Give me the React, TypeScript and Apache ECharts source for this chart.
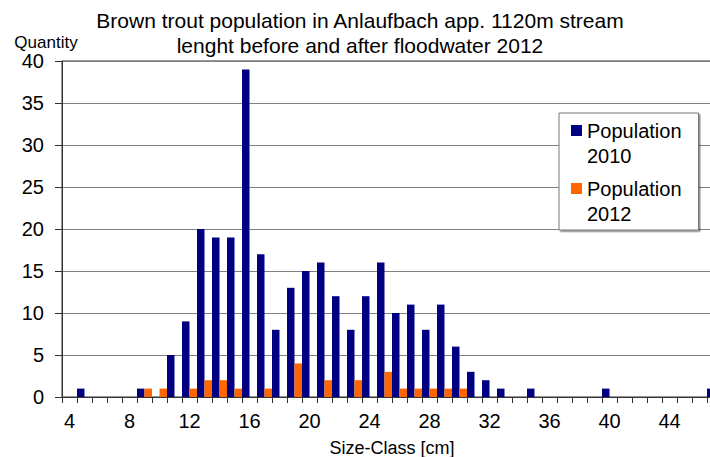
import React, { useEffect, useRef } from "react";
import * as echarts from "echarts";

const sizeClasses: string[] = [
  "4", "5", "6", "7", "8", "9", "10", "11", "12", "13", "14", "15", "16", "17", "18", "19",
  "20", "21", "22", "23", "24", "25", "26", "27", "28", "29", "30", "31", "32", "33", "34", "35",
  "36", "37", "38", "39", "40", "41", "42", "43", "44", "45", "46", "47",
];

const population2010: number[] = [
  0, 1, 0, 0, 0, 1, 0, 5, 9, 20, 19, 19, 39, 17, 8, 13,
  15, 16, 12, 8, 12, 16, 10, 11, 8, 11, 6, 3, 2, 1, 0, 1,
  0, 0, 0, 0, 1, 0, 0, 0, 0, 0, 0, 1,
];

const population2012: number[] = [
  0, 0, 0, 0, 0, 1, 1, 0, 1, 2, 2, 1, 0, 1, 0, 4,
  0, 2, 0, 2, 0, 3, 1, 1, 1, 1, 1, 0, 0, 0, 0, 0,
  0, 0, 0, 0, 0, 0, 0, 0, 0, 0, 0, 0,
];

const seriesNames: string[] = ["Population\n2010", "Population\n2012"];
const titleText = "Brown trout population in Anlaufbach app. 1120m stream\nlenght before and after floodwater 2012";

const FONT = "'Liberation Sans', Arial, sans-serif";

export default function App() {
  const ref = useRef<HTMLDivElement>(null);

  useEffect(() => {
    if (!ref.current) return;
    const chart = echarts.init(ref.current, null, { renderer: "svg" });
    const legendIcon = "path://M0,0L11,0L11,11L0,11ZM0,36L0,36";
    chart.setOption({
      animation: false,
      backgroundColor: "#ffffff",
      textStyle: { fontFamily: FONT },
      title: {
        text: titleText,
        left: 360,
        top: 8,
        padding: 0,
        textAlign: "center",
        textStyle: {
          fontFamily: FONT,
          fontSize: 21,
          fontWeight: "normal",
          color: "#000",
          lineHeight: 25,
        },
      },
      legend: {
        orient: "vertical",
        left: 559,
        top: 113,
        padding: [5, 17, 4, 12],
        itemGap: 8,
        itemWidth: 11,
        itemHeight: 36,
        backgroundColor: "#ffffff",
        borderColor: "#777",
        borderWidth: 1,
        shadowColor: "rgba(0,0,0,0.45)",
        shadowOffsetX: 1.5,
        shadowOffsetY: 1.5,
        shadowBlur: 0,
        selectedMode: false,
        textStyle: { fontFamily: FONT, fontSize: 20, color: "#000", lineHeight: 25 },
        data: [
          { name: seriesNames[0], icon: legendIcon },
          { name: seriesNames[1], icon: legendIcon },
        ],
      },
      grid: {
        left: 62,
        top: 61,
        width: 660,
        height: 336,
        containLabel: false,
        outerBoundsMode: "none",
        show: true,
        borderColor: "#333",
        borderWidth: 1,
        backgroundColor: "transparent",
      },
      xAxis: {
        type: "category",
        data: sizeClasses,
        boundaryGap: true,
        name: "Size-Class [cm]",
        nameLocation: "middle",
        nameGap: 42,
        nameTextStyle: { fontFamily: FONT, fontSize: 18, color: "#000" },
        axisLine: { show: true, lineStyle: { color: "#333", width: 1 } },
        axisTick: { show: true, interval: 0, length: 6, alignWithLabel: false, lineStyle: { color: "#333" } },
        axisLabel: { interval: 3, fontFamily: FONT, fontSize: 20, color: "#000", margin: 14 },
        splitLine: { show: false },
      },
      yAxis: {
        type: "value",
        min: 0,
        max: 40,
        interval: 5,
        name: "Quantity",
        nameLocation: "end",
        nameGap: 10,
        nameTextStyle: { fontFamily: FONT, fontSize: 17, color: "#000", align: "center", padding: [0, 32, 0, 0] },
        axisLine: { show: true, lineStyle: { color: "#333", width: 1 } },
        axisTick: { show: true, length: 7, lineStyle: { color: "#333" } },
        axisLabel: { fontFamily: FONT, fontSize: 20, color: "#000", margin: 18 },
        splitLine: { show: true, lineStyle: { color: "#808080", width: 1 } },
      },
      series: [
        {
          name: seriesNames[0],
          type: "bar",
          data: population2010,
          barGap: "0%",
          barCategoryGap: "0%",
          itemStyle: { color: "#000080" },
        },
        {
          name: seriesNames[1],
          type: "bar",
          data: population2012,
          barGap: "0%",
          barCategoryGap: "0%",
          itemStyle: { color: "#ff6600" },
        },
      ],
    });
    return () => chart.dispose();
  }, []);

  return (
    <div
      ref={ref}
      style={{ position: "fixed", left: 0, top: 0, width: 710, height: 457, background: "#fff" }}
    />
  );
}
